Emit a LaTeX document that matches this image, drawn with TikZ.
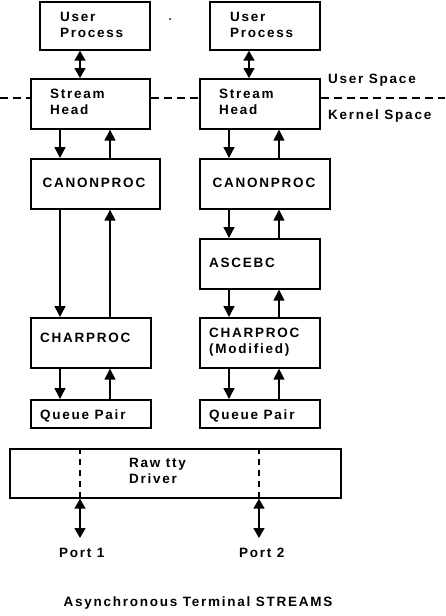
\documentclass[tikz,border=0pt]{standalone}
\usepackage{fontspec}
\setmainfont{Liberation Sans}[LetterSpace=13]
\usetikzlibrary{arrows.meta}
\begin{document}
\begin{tikzpicture}[x=1pt,y=-1pt,
  box/.style={draw,line width=1.7pt,rectangle,inner sep=0pt,anchor=north west},
  lbl/.style={font=\bfseries\fontsize{13.5}{16}\selectfont,anchor=west,inner sep=0pt,align=left},
  arr/.style={line width=1.5pt,-{Triangle[width=11pt,length=11pt]}},
  darr/.style={line width=1.5pt,{Triangle[width=11pt,length=10pt]}-{Triangle[width=11pt,length=10pt]}},
  sep/.style={line width=1.5pt,dash pattern=on 8pt off 5pt}]
\useasboundingbox (0,0) rectangle (445,616);
% left column
\node[box,minimum width=110pt,minimum height=48pt] (up1) at (39,1) {};
\node[box,minimum width=119pt,minimum height=50pt] (sh1) at (30,78) {};
\node[box,minimum width=129pt,minimum height=50pt] (cp1) at (30,158) {};
\node[box,minimum width=120pt,minimum height=50pt] (ch1) at (30,317) {};
\node[box,minimum width=120pt,minimum height=28pt] (qp1) at (30,399) {};
% right column
\node[box,minimum width=110pt,minimum height=48pt] (up2) at (209,1) {};
\node[box,minimum width=120pt,minimum height=50pt] (sh2) at (199,78) {};
\node[box,minimum width=130pt,minimum height=50pt] (cp2) at (199,158) {};
\node[box,minimum width=120pt,minimum height=50pt] (as2) at (199,238) {};
\node[box,minimum width=120pt,minimum height=50pt] (ch2) at (199,317) {};
\node[box,minimum width=120pt,minimum height=28pt] (qp2) at (199,399) {};
% driver
\node[box,minimum width=331pt,minimum height=49pt] (drv) at (9,448) {};
% labels
\node[lbl] (tup1) at (60,25) {User\\Process};
\node[lbl] (tup2) at (230,25) {User\\Process};
\node[lbl] (tsh1) at (50,102) {Stream\\Head};
\node[lbl] (tsh2) at (219,102) {Stream\\Head};
\node[lbl,anchor=center] (tcp1) at (94,183) {CANONPROC};
\node[lbl,anchor=center] (tcp2) at (264,183) {CANONPROC};
\node[lbl] (tas2) at (209,263) {ASCEBC};
\node[lbl] (tch1) at (40,338) {CHARPROC};
\node[lbl] (tch2) at (209,342) {CHARPROC\\(Modified)};
\node[lbl] (tqp1) at (40,416) {Queue Pair};
\node[lbl] (tqp2) at (209,416) {Queue Pair};
\node[lbl] (tdrv) at (129,471) {Raw tty\\Driver};
\node[lbl] (tus) at (328,80) {User Space};
\node[lbl] (tks) at (328,116) {Kernel Space};
\node[lbl] (tp1) at (59,553) {Port 1};
\node[lbl] (tp2) at (239,553) {Port 2};
\node[lbl,anchor=center] (ttl) at (198,603) {Asynchronous Terminal STREAMS};
\node[circle,fill,inner sep=0pt,minimum size=2pt] (dot) at (170,19) {};
% user/kernel separator
\coordinate (sl) at (0,98);
\coordinate (sr) at (445,98);
\draw[sep] (sl) -- (sl -| sh1.west);
\draw[sep] (sl -| sh1.east) -- (sl -| sh2.west);
\draw[sep] (sl -| sh2.east) -- (sr);
% user process <-> stream head
\draw[darr] ([xshift=41pt]up1.south west) coordinate (a1) -- (a1 |- sh1.north);
\draw[darr] ([xshift=40pt]up2.south west) coordinate (a2) -- (a2 |- sh2.north);
% left column arrows
\draw[arr] ([xshift=30pt]sh1.south west) -- ([xshift=30pt]cp1.north west);
\draw[arr] ([xshift=80pt]cp1.north west) -- ([xshift=80pt]sh1.south west);
\draw[arr] ([xshift=30pt]cp1.south west) -- ([xshift=30pt]ch1.north west);
\draw[arr] ([xshift=80pt]ch1.north west) -- ([xshift=80pt]cp1.south west);
\draw[arr] ([xshift=30pt]ch1.south west) -- ([xshift=30pt]qp1.north west);
\draw[arr] ([xshift=80pt]qp1.north west) -- ([xshift=80pt]ch1.south west);
% right column arrows
\draw[arr] ([xshift=30pt]sh2.south west) -- ([xshift=30pt]cp2.north west);
\draw[arr] ([xshift=80pt]cp2.north west) -- ([xshift=80pt]sh2.south west);
\draw[arr] ([xshift=30pt]cp2.south west) -- ([xshift=30pt]as2.north west);
\draw[arr] ([xshift=80pt]as2.north west) -- ([xshift=80pt]cp2.south west);
\draw[arr] ([xshift=30pt]as2.south west) -- ([xshift=30pt]ch2.north west);
\draw[arr] ([xshift=80pt]ch2.north west) -- ([xshift=80pt]as2.south west);
\draw[arr] ([xshift=30pt]ch2.south west) -- ([xshift=30pt]qp2.north west);
\draw[arr] ([xshift=80pt]qp2.north west) -- ([xshift=80pt]ch2.south west);
% driver ports
\draw[line width=1.5pt,dash pattern=on 6pt off 5pt] ([xshift=71pt]drv.north west) coordinate (d1) -- (d1 |- drv.south);
\draw[line width=1.5pt,dash pattern=on 6pt off 5pt] ([xshift=250pt]drv.north west) coordinate (d2) -- (d2 |- drv.south);
\coordinate (pe1) at (80,538);
\coordinate (pe2) at (259,538);
\draw[darr] (pe1 |- drv.south) -- (pe1);
\draw[darr] (pe2 |- drv.south) -- (pe2);
\end{tikzpicture}
\end{document}
